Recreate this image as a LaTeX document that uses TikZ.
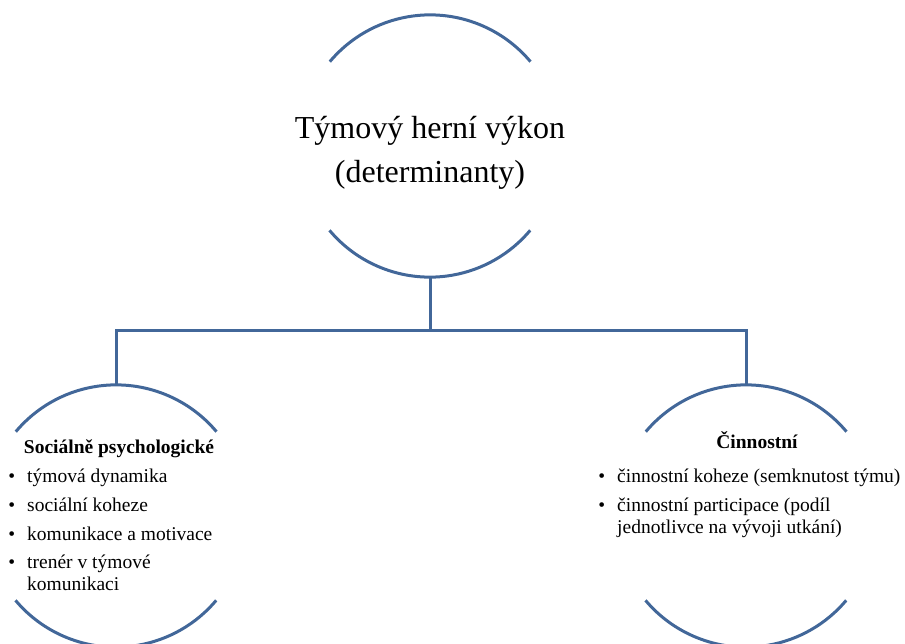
\documentclass[tikz,border=0pt]{standalone}
\usepackage{fontspec}
\setmainfont{Liberation Serif}
\definecolor{arcblue}{RGB}{66,103,153}
\newcommand{\bul}{\llap{\textbullet\hspace*{12pt}}}
\begin{document}
\begin{tikzpicture}[x=1pt,y=1pt,
  arcline/.style={draw=arcblue, line width=3pt},
  conn/.style={draw=arcblue, line width=3pt},
  ring/.style={circle, minimum size=262pt, inner sep=0pt, draw=none},
  titletext/.style={font=\fontsize{32}{44}\selectfont, align=center, inner sep=0pt},
  headtext/.style={font=\fontsize{19.5}{22}\selectfont\bfseries, inner sep=0pt},
  itemtext/.style={font=\fontsize{19.5}{22}\selectfont, align=left, inner sep=0pt},
]
\useasboundingbox (0,0) rectangle (905,-643);
\node[ring] (top) at (430,-146) {};
\node[ring] (left) at (116,-516) {};
\node[ring] (right) at (746,-516) {};
\foreach \n in {top,left,right}{
  \draw[arcline] (\n.40) arc[start angle=40,end angle=140,radius=131pt];
  \draw[arcline] (\n.220) arc[start angle=220,end angle=320,radius=131pt];
}
\coordinate (junction) at (430,-330);
\draw[conn] (top.south) -- (junction);
\draw[conn] (left.north) |- (junction) -| (right.north);

% base anchor of a multi-line node = baseline of its last line
\node[titletext, anchor=base] (title) at (430,-182) {Týmový herní výkon\\(determinanty)};

\node[headtext, anchor=base] (lhead) at (119,-453) {Sociálně psychologické};
\node[itemtext, anchor=base west] (l1) at (27,-482) {\bul týmová dynamika};
\node[itemtext, anchor=base west] (l2) at (27,-511) {\bul sociální koheze};
\node[itemtext, anchor=base west] (l3) at (27,-540) {\bul komunikace a motivace};
\node[itemtext, anchor=base west] (l4) at (27,-590) {\bul trenér v týmové\\komunikaci};

\node[headtext, anchor=base] (rhead) at (757,-448) {Činnostní};
\node[itemtext, anchor=base west] (r1) at (617,-482) {\bul činnostní koheze (semknutost týmu)};
\node[itemtext, anchor=base west] (r2) at (617,-533) {\bul činnostní participace (podíl\\jednotlivce na vývoji utkání)};
\end{tikzpicture}
\end{document}
